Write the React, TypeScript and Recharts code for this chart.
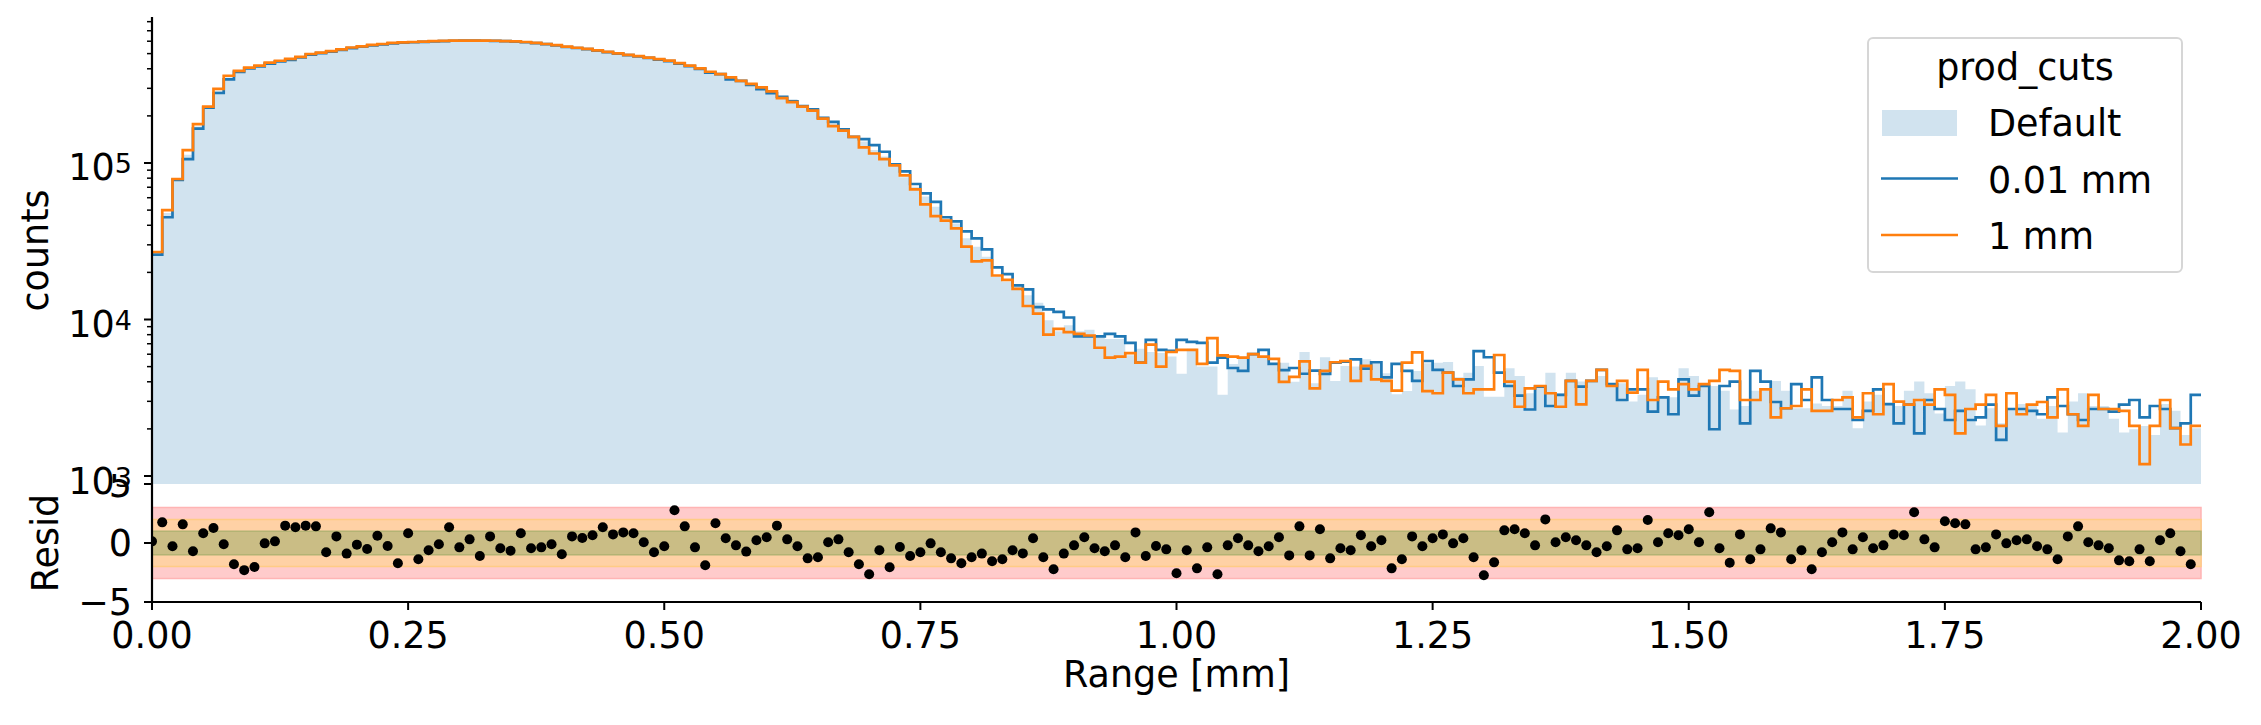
import React from "react";
import {
  ComposedChart,
  Area,
  Line,
  Scatter,
  XAxis,
  YAxis,
  ReferenceArea,
  Legend,
  Label,
} from "recharts";

// histogram: 200 bins of 0.01 mm on [0, 2] mm, counts in thousands
const BIN_WIDTH = 0.01;

const DEFAULT_K = [
  26.5, 48, 79, 113, 171, 228, 289, 352, 388, 407,
  419, 437, 449, 463, 477, 495, 506, 518, 532, 546,
  555, 567, 575, 585, 588, 592, 596, 600, 602, 604,
  605, 606, 605, 604, 601, 597, 592, 585, 576, 565,
  553, 544, 535, 525, 512, 501, 491, 481, 470, 460,
  450, 434, 418, 401, 381, 370, 347, 335, 318, 300,
  283, 262, 255, 230, 218, 193, 179, 162, 147, 137,
  121, 110, 97, 81, 70.6, 61, 52.6, 43.6, 41.1, 33,
  29.2, 25.2, 18.8, 17.5, 16.2, 14.3, 12.8, 9.9, 8.4, 9.2,
  8.4, 8.6, 7.8, 7.5, 7.5, 5.9, 6.5, 6.2, 6.1, 5.8,
  4.5, 6.5, 5.0, 5.0, 3.3, 5.2, 5.8, 6.0, 5.8, 5.1,
  5.3, 4.0, 6.2, 3.91, 5.74, 4.05, 5.05, 5.0, 5.57, 5.25,
  4.53, 3.33, 3.49, 4.69, 5.25, 5.3, 5.35, 4.27, 4.57, 5.05,
  3.21, 3.21, 4.88, 4.35, 3.38, 3.76, 4.57, 3.38, 4.57, 4.01,
  4.05, 4.35, 3.89, 3.91, 2.99, 3.3, 4.27, 3.21, 3.18, 4.88,
  4.35, 3.76, 3.76, 3.51, 2.66, 2.8, 3.51, 3.51, 4.05, 3.51,
  2.71, 2.71, 2.91, 2.8, 2.8, 3.51, 2.02, 2.99, 3.3, 2.88,
  2.8, 3.51, 4.01, 3.38, 2.51, 3.76, 4.01, 3.58, 2.1, 2.71,
  2.17, 2.68, 2.88, 2.8, 2.32, 2.8, 1.9, 2.99, 3.38, 2.8,
  2.8, 2.32, 1.9, 1.99, 2.09, 1.83, 2.88, 2.61, 1.83, 2.02,
];

const FINE_K = [
  26, 45, 78, 106, 166, 226, 280, 342, 382, 402,
  414, 432, 446, 456, 473, 492, 503, 515, 528, 542,
  553, 565, 573, 582, 588, 591, 595, 598, 601, 604,
  605, 605, 604, 603, 600, 596, 591, 584, 575, 564,
  551, 543, 534, 523, 511, 500, 489, 479, 469, 458,
  448, 432, 416, 399, 378, 370, 342, 335, 316, 296,
  279, 265, 248, 231, 220, 194, 183, 164, 147, 142,
  130, 118, 98, 88.4, 73.4, 64, 56.4, 45, 42.4, 36.6,
  33, 28.1, 21.5, 19.5, 16.5, 15.6, 12, 11.6, 11.2, 10.3,
  7.8, 7.8, 7.8, 8.1, 7.8, 7.1, 5.3, 7.4, 6.4, 6.3,
  7.4, 7.2, 7.1, 5.3, 5.7, 4.9, 4.7, 6.0, 6.4, 5.2,
  4.75, 4.9, 4.5, 4.71, 4.49, 5.3, 5.38, 5.57, 4.86, 5.33,
  4.27, 5.2, 4.69, 4.05, 5.43, 4.76, 4.57, 3.76, 4.15, 6.28,
  5.74, 4.57, 3.76, 3.26, 2.66, 3.72, 2.8, 3.3, 4.05, 3.72,
  4.05, 4.76, 3.87, 3.06, 3.58, 3.58, 2.58, 3.18, 2.48, 4.15,
  3.26, 3.76, 1.99, 3.76, 4.01, 2.17, 4.69, 4.01, 2.97, 2.71,
  3.87, 3.06, 4.27, 3.06, 2.68, 2.68, 2.28, 2.61, 3.58, 2.88,
  2.17, 2.86, 1.87, 3.06, 2.68, 2.28, 2.61, 2.28, 2.37, 2.86,
  1.7, 2.68, 2.68, 2.61, 2.48, 3.18, 2.8, 2.48, 2.28, 2.68,
  2.68, 2.58, 2.86, 3.06, 2.37, 2.8, 2.68, 2.02, 2.17, 3.3,
];

const COARSE_K = [
  27, 50, 79, 121, 177, 229, 298, 361, 388, 407,
  419, 438, 450, 463, 477, 497, 507, 518, 532, 547,
  556, 568, 576, 586, 589, 593, 596, 600, 603, 605,
  606, 606, 605, 604, 601, 598, 593, 586, 576, 566,
  554, 545, 536, 525, 513, 502, 491, 482, 471, 461,
  451, 435, 419, 402, 383, 370, 352, 335, 320, 304,
  287, 260, 245, 229, 216, 192, 172, 161, 147, 126,
  115, 106, 96.6, 83.4, 67.9, 54.4, 45.8, 42.8, 38.2, 29.2,
  23.5, 23.9, 19.1, 17.9, 15.7, 12.2, 10.9, 8.0, 8.7, 8.3,
  8.1, 7.9, 6.6, 5.7, 5.8, 6.1, 5.3, 6.9, 5.0, 6.2,
  6.4, 6.4, 5.2, 7.6, 5.9, 5.8, 5.7, 6.0, 5.8, 5.6,
  4.0, 4.3, 5.4, 3.63, 4.69, 5.33, 5.43, 4.05, 5.05, 4.15,
  4.05, 3.51, 5.3, 6.17, 3.49, 3.38, 4.57, 4.15, 3.38, 3.58,
  3.58, 5.93, 4.01, 2.77, 3.63, 3.76, 3.38, 2.77, 4.05, 2.87,
  4.05, 4.76, 3.76, 4.05, 3.41, 4.76, 3.06, 4.01, 3.58, 3.87,
  3.58, 3.87, 4.05, 4.76, 4.69, 3.06, 3.06, 3.58, 2.37, 2.71,
  2.8, 3.58, 2.61, 2.61, 3.06, 3.18, 2.37, 3.38, 2.48, 3.87,
  2.99, 2.86, 3.06, 2.86, 3.58, 3.3, 1.87, 2.68, 2.86, 3.3,
  2.09, 3.38, 2.48, 2.86, 2.97, 2.37, 3.58, 2.48, 2.09, 3.3,
  2.68, 2.68, 2.61, 2.09, 1.19, 2.09, 3.06, 2.02, 1.59, 2.09,
];

// residuals, one per bin (left edge)
const RESID = [
  0.14, 1.75, -0.28, 1.58, -0.7, 0.82, 1.27, -0.11, -1.8, -2.3,
  -2.03, -0.03, 0.14, 1.47, 1.33, 1.47, 1.41, -0.79, 0.56, -0.9,
  -0.14, -0.51, 0.62, -0.25, -1.72, 0.82, -1.38, -0.62, -0.11, 1.33,
  -0.37, 0.31, -1.1, 0.56, -0.45, -0.65, 0.82, -0.45, -0.37, -0.11,
  -0.96, 0.56, 0.42, 0.65, 1.33, 0.73, 0.9, 0.82, 0.06, -0.79,
  -0.28, 2.77, 1.41, -0.37, -1.89, 1.67, 0.4, -0.2, -0.73, 0.23,
  0.48, 1.47, 0.31, -0.28, -1.3, -1.21, 0.06, 0.31, -0.79, -1.8,
  -2.65, -0.62, -2.06, -0.34, -1.1, -0.79, -0.03, -0.79, -1.3, -1.72,
  -1.21, -0.9, -1.55, -1.38, -0.62, -0.88, 0.4, -1.21, -2.23, -0.9,
  -0.2, 0.48, -0.45, -0.7, -0.2, -1.21, 0.9, -1.1, -0.25, -0.54,
  -2.57, -0.62, -2.15, -0.37, -2.65, -0.2, 0.4, -0.2, -0.7, -0.28,
  0.48, -1.05, 1.41, -1.05, 1.16, -1.3, -0.45, -0.62, 0.65, -0.28,
  0.23, -2.15, -1.38, 0.56, -0.28, 0.4, 0.73, -0.03, 0.4, -1.21,
  -2.74, -1.64, 1.07, 1.16, 0.82, -0.2, 2.0, 0.06, 0.48, 0.23,
  -0.2, -0.79, -0.28, 1.07, -0.54, -0.45, 1.95, 0.06, 0.82, 0.65,
  1.16, 0.06, 2.6, -0.45, -1.67, 0.73, -1.38, -0.54, 1.24, 0.9,
  -1.38, -0.62, -2.23, -0.79, 0.06, 0.9, -0.54, 0.48, -0.45, -0.2,
  0.73, 0.65, 2.6, 0.31, -0.37, 1.84, 1.67, 1.58, -0.54, -0.37,
  0.73, -0.03, 0.23, 0.31, -0.28, -0.54, -1.38, 0.56, 1.41, 0.06,
  -0.2, -0.45, -1.47, -1.55, -0.54, -1.55, 0.23, 0.82, -0.7, -1.8,
];

const X_TICKS = [0, 0.25, 0.5, 0.75, 1.0, 1.25, 1.5, 1.75, 2.0];
const COUNT_EXPONENTS = [3, 4, 5];
const MINOR_MULTIPLIERS = [2, 3, 4, 5, 6, 7, 8, 9];
const RESID_TICKS = [-5, 0, 5];
const SIGMA_BANDS = [
  { n: 3, fill: "#ffcbcb", edge: "#ffb4b4" },
  { n: 2, fill: "#ffd1a5", edge: "#ffcc85" },
  { n: 1, fill: "#cabd85", edge: "#b3b374" },
];
const LEGEND_ITEMS = [
  { label: "Default", color: "#d1e3ef", kind: "patch" },
  { label: "0.01 mm", color: "#1f77b4", kind: "line" },
  { label: "1 mm", color: "#ff7f0e", kind: "line" },
];

const FONT = '"DejaVu Sans", sans-serif';
const FS = 36.5;
const W = 2261;
const PLOT_LEFT = 152;
const RIGHT_PAD = 60;
const Y_MIN = 889;
const Y_MAX = 856800;

const histRows = DEFAULT_K.map((d, i) => ({
  x: i * BIN_WIDTH,
  def: d * 1000,
  fine: FINE_K[i] * 1000,
  coarse: COARSE_K[i] * 1000,
}));
histRows.push({ ...histRows[histRows.length - 1], x: 2 });

const residRows = RESID.map((r, i) => ({ x: i * BIN_WIDTH, r }));

const countTicks: number[] = [];
COUNT_EXPONENTS.forEach((e) => {
  countTicks.push(Math.pow(10, e));
  MINOR_MULTIPLIERS.forEach((m) => {
    const v = m * Math.pow(10, e);
    if (v < Y_MAX) countTicks.push(v);
  });
});

const spine = { stroke: "#000", strokeWidth: 2.2 };

function LogTick(props: any) {
  const { y, payload } = props;
  const v = payload.value;
  const exp = Math.round(Math.log10(v));
  const major = Math.abs(v - Math.pow(10, exp)) < 1e-6 * v;
  const len = major ? 8 : 5;
  return (
    <g>
      <line x1={PLOT_LEFT - len} x2={PLOT_LEFT} y1={y} y2={y} stroke="#000" strokeWidth={major ? 2 : 1.5} />
      {major && (
        <text x={PLOT_LEFT - 20} y={y + 17.5} textAnchor="end" fontSize={FS} fontFamily={FONT} fill="#000">
          10
          <tspan dy={-7} fontSize={27}>
            {exp}
          </tspan>
        </text>
      )}
    </g>
  );
}

function ResidTick(props: any) {
  const { y, payload } = props;
  const v = payload.value;
  return (
    <text x={PLOT_LEFT - 20} y={y + 13} textAnchor="end" fontSize={FS} fontFamily={FONT} fill="#000">
      {v < 0 ? `\u2212${Math.abs(v)}` : `${v}`}
    </text>
  );
}

function XTick(props: any) {
  const { x, y, payload } = props;
  return (
    <text x={x} y={y} dy={36} textAnchor="middle" fontSize={FS} fontFamily={FONT} fill="#000">
      {payload.value.toFixed(2)}
    </text>
  );
}

function rotatedLabel(text: string, x: number, y: number) {
  return () => (
    <text
      x={x}
      y={y}
      transform={`rotate(-90 ${x} ${y})`}
      textAnchor="middle"
      fontSize={FS}
      fontFamily={FONT}
      fill="#000"
    >
      {text}
    </text>
  );
}

function renderLegend() {
  return (
    <svg width={316} height={236} style={{ display: "block" }}>
      <rect x={1} y={1} width={314} height={234} rx={5} fill="#fff" fillOpacity={0.8} stroke="#d6d6d6" strokeWidth={2} />
      <text x={158} y={43} textAnchor="middle" fontSize={FS} fontFamily={FONT} fill="#000">
        prod_cuts
      </text>
      {LEGEND_ITEMS.map((it, k) => {
        const base = 99 + k * 56.5;
        return (
          <g key={it.label}>
            {it.kind === "patch" ? (
              <rect x={15} y={base - 26} width={75} height={26} fill={it.color} />
            ) : (
              <line x1={14} x2={91} y1={base - 14} y2={base - 14} stroke={it.color} strokeWidth={2.7} />
            )}
            <text x={121} y={base} fontSize={FS} fontFamily={FONT} fill="#000">
              {it.label}
            </text>
          </g>
        );
      })}
    </svg>
  );
}

export default function App() {
  return (
    <div style={{ position: "absolute", left: 0, top: 0, width: W, height: 725, background: "#fff", fontFamily: FONT }}>
      <div style={{ position: "absolute", left: 0, top: 474 }}>
        <ComposedChart width={W} height={251} data={residRows} margin={{ top: 10, right: RIGHT_PAD, bottom: 0, left: 0 }}>
          <XAxis
            type="number"
            dataKey="x"
            domain={[0, 2]}
            allowDataOverflow
            ticks={X_TICKS}
            interval={0}
            height={123}
            tickSize={8}
            tickLine={{ stroke: "#000", strokeWidth: 2 }}
            axisLine={spine}
            tick={(p: any) => <XTick {...p} />}
          >
            <Label
              content={() => (
                <text x={PLOT_LEFT + (W - PLOT_LEFT - RIGHT_PAD) / 2} y={213} textAnchor="middle" fontSize={FS} fontFamily={FONT} fill="#000">
                  Range [mm]
                </text>
              )}
            />
          </XAxis>
          <XAxis xAxisId="top" orientation="top" type="number" domain={[0, 2]} height={0} tick={false} tickLine={false} axisLine={spine} />
          <YAxis
            type="number"
            domain={[-5, 5]}
            ticks={RESID_TICKS}
            interval={0}
            width={PLOT_LEFT}
            tickSize={8}
            tickLine={{ stroke: "#000", strokeWidth: 2 }}
            axisLine={spine}
            tick={(p: any) => <ResidTick {...p} />}
          >
            <Label content={rotatedLabel("Resid", 58, 10 + 118 / 2)} />
          </YAxis>
          <YAxis yAxisId="right" orientation="right" type="number" domain={[0, 1]} width={0} tick={false} tickLine={false} axisLine={spine} />
          {SIGMA_BANDS.map((b) => (
            <ReferenceArea key={b.n} y1={-b.n} y2={b.n} fill={b.fill} fillOpacity={1} stroke={b.edge} strokeWidth={1.5} />
          ))}
          <Scatter
            dataKey="r"
            isAnimationActive={false}
            shape={(p: any) => <circle cx={p.cx} cy={p.cy} r={5} fill="#000" />}
          />
        </ComposedChart>
      </div>
      <div style={{ position: "absolute", left: 0, top: 0 }}>
        <ComposedChart width={W} height={504} data={histRows} margin={{ top: 17, right: RIGHT_PAD, bottom: 20, left: 0 }}>
          <XAxis type="number" dataKey="x" domain={[0, 2]} allowDataOverflow height={0} tick={false} tickLine={false} axisLine={spine} />
          <XAxis xAxisId="top" orientation="top" type="number" domain={[0, 2]} height={0} tick={false} tickLine={false} axisLine={spine} />
          <YAxis
            type="number"
            scale="log"
            domain={[Y_MIN, Y_MAX]}
            allowDataOverflow
            ticks={countTicks}
            interval={0}
            width={PLOT_LEFT}
            tickSize={8}
            tickLine={false}
            axisLine={spine}
            tick={(p: any) => <LogTick {...p} />}
          >
            <Label content={rotatedLabel("counts", 48, 17 + 467 / 2)} />
          </YAxis>
          <YAxis yAxisId="right" orientation="right" type="number" domain={[0, 1]} width={0} tick={false} tickLine={false} axisLine={spine} />
          <Area
            type="stepAfter"
            dataKey="def"
            baseValue={Y_MIN}
            fill="#d1e3ef"
            fillOpacity={1}
            stroke="none"
            isAnimationActive={false}
          />
          <Line type="stepAfter" dataKey="fine" stroke="#1f77b4" strokeWidth={2.7} dot={false} isAnimationActive={false} />
          <Line type="stepAfter" dataKey="coarse" stroke="#ff7f0e" strokeWidth={2.7} dot={false} isAnimationActive={false} />
          <Legend
            layout="horizontal"
            verticalAlign="middle"
            align="center"
            wrapperStyle={{ left: 1867, top: 37, width: 316, height: 236 }}
            content={renderLegend}
          />
        </ComposedChart>
      </div>
    </div>
  );
}
